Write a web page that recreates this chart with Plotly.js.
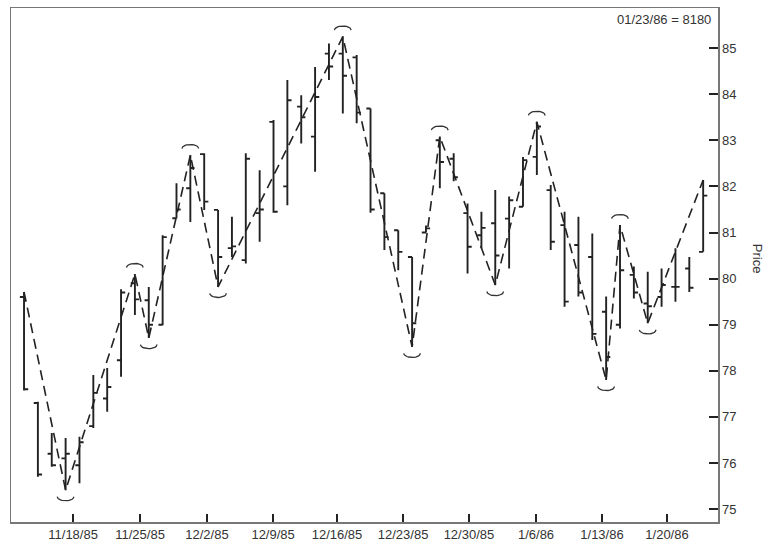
<!DOCTYPE html>
<html>
<head>
<meta charset="utf-8">
<script src="https://cdn.plot.ly/plotly-3.0.1.min.js"></script>
<style>
  html, body { margin: 0; padding: 0; background: #fff; }
  #chart { width: 768px; height: 543px; }
</style>
</head>
<body>
<div id="chart"></div>
<script>
// Trading sessions (holidays 11/28/85, 12/25/85, 1/1/86 absent)
const dates = [
  "11/12/85","11/13/85","11/14/85","11/15/85",
  "11/18/85","11/19/85","11/20/85","11/21/85","11/22/85",
  "11/25/85","11/26/85","11/27/85","11/29/85",
  "12/2/85","12/3/85","12/4/85","12/5/85","12/6/85",
  "12/9/85","12/10/85","12/11/85","12/12/85","12/13/85",
  "12/16/85","12/17/85","12/18/85","12/19/85","12/20/85",
  "12/23/85","12/24/85","12/26/85","12/27/85",
  "12/30/85","12/31/85","1/2/86","1/3/86",
  "1/6/86","1/7/86","1/8/86","1/9/86","1/10/86",
  "1/13/86","1/14/86","1/15/86","1/16/86","1/17/86",
  "1/20/86","1/21/86","1/22/86","1/23/86"
];
const openP  = [79.60,77.30,76.20,76.10,75.95,76.80,77.40,78.23,79.90,79.53,
                79.00,81.31,81.96,82.70,81.49,80.66,80.40,81.42,83.40,82.00,
                83.73,83.08,84.88,84.88,84.80,83.69,81.85,81.05,80.47,81.00,
                83.00,82.60,81.42,80.94,81.20,81.30,81.56,82.64,81.92,81.16,
                80.73,80.47,79.28,79.00,80.08,79.46,79.60,79.82,80.22,80.58];
const highP  = [79.71,77.33,76.65,76.54,76.57,77.91,78.06,79.77,80.10,79.82,
                80.94,82.07,82.68,82.72,81.49,81.34,82.72,82.35,83.44,84.31,
                83.98,84.59,85.10,85.25,84.85,83.69,81.85,81.05,80.47,81.15,
                83.08,82.72,81.63,81.45,81.92,81.78,82.64,83.40,82.03,81.45,
                81.34,80.98,79.61,81.16,80.26,80.15,80.22,80.66,80.47,82.14];
const lowP   = [77.57,75.70,75.92,75.41,75.56,76.76,77.11,77.87,79.21,78.71,
                78.99,81.31,81.23,81.49,79.82,80.47,80.33,80.80,81.43,81.59,
                82.93,82.32,84.31,83.58,83.37,81.43,80.62,80.18,78.52,81.00,
                81.96,82.11,80.11,80.66,79.86,80.22,81.56,82.25,80.62,79.39,
                79.61,78.67,77.80,78.92,79.57,79.03,79.39,79.50,79.71,80.58];
const closeP = [77.60,75.75,75.95,76.20,76.45,77.52,77.65,79.70,79.55,79.00,
                80.90,81.50,82.40,81.67,80.47,80.70,82.60,81.50,81.45,83.87,
                83.50,83.94,84.60,84.40,83.60,81.50,80.90,80.58,79.03,81.09,
                82.53,82.20,80.69,81.10,80.50,81.70,82.57,83.30,80.80,79.50,
                79.70,78.80,78.30,80.18,79.70,79.40,79.86,79.82,79.80,81.80];

// Swing points joined by the dashed zig-zag ("H" = bar high, "L" = bar low)
const pivotDates = ["11/12/85","11/15/85","11/22/85","11/25/85","11/29/85","12/3/85",
                    "12/16/85","12/23/85","12/26/85","1/2/86","1/7/86",
                    "1/14/86","1/15/86","1/17/86","1/23/86"];
const pivotType  = ["H","L","H","L","H","L","H","L","H","L","H","L","H","L","H"];

const tickLabels = ["11/18/85","11/25/85","12/2/85","12/9/85","12/16/85",
                    "12/23/85","12/30/85","1/6/86","1/13/86","1/20/86"];

// ---------------------------------------------------------------
const xIdx = dates.map((d, i) => i);
const pivX = pivotDates.map(d => dates.indexOf(d));
const pivY = pivX.map((i, k) => pivotType[k] === "H" ? highP[i] : lowP[i]);

// little arcs over swing highs / under swing lows (skip the end points)
const arcX = [], arcY = [];
const nSeg = 14, halfW = 0.6, gap = 0.14, rise = 0.09;
for (let k = 1; k < pivX.length - 1; k++) {
  const s = pivotType[k] === "H" ? 1 : -1;
  for (let j = 0; j <= nSeg; j++) {
    const t = Math.PI * j / nSeg;
    arcX.push(pivX[k] + halfW * Math.cos(t));
    arcY.push(pivY[k] + s * (gap + rise * Math.sin(t)));
  }
  arcX.push(null); arcY.push(null);
}

const ink = "#222";
const traces = [
  {
    type: "ohlc",
    x: xIdx, open: openP, high: highP, low: lowP, close: closeP,
    text: dates, hoverinfo: "text",
    increasing: { line: { color: ink, width: 1.9 } },
    decreasing: { line: { color: ink, width: 1.9 } },
    tickwidth: 0.3,
    showlegend: false
  },
  {
    type: "scatter", mode: "lines",
    x: pivX, y: pivY,
    line: { color: ink, width: 1.6, dash: "10px,6px" },
    hoverinfo: "skip", showlegend: false
  },
  {
    type: "scatter", mode: "lines",
    x: arcX, y: arcY, connectgaps: false,
    line: { color: "#333", width: 1.3 },
    hoverinfo: "skip", showlegend: false
  }
];

const font = { family: "Liberation Sans, Arial, sans-serif", size: 13, color: "#333" };

const layout = {
  width: 768, height: 543,
  margin: { l: 11, r: 50, t: 8, b: 21, pad: 0 },
  paper_bgcolor: "#fff", plot_bgcolor: "#fff",
  font: font,
  showlegend: false,
  xaxis: {
    type: "linear",
    range: [-0.94, 50.07],
    rangeslider: { visible: false },
    tickmode: "array",
    tickvals: [3.54, 8.37, 13.2, 17.97, 22.58, 27.35, 32.1, 36.94, 41.7, 46.39],
    ticktext: tickLabels,
    ticks: "inside", ticklen: 8, tickwidth: 2, tickcolor: ink,
    showgrid: false, zeroline: false,
    showline: true, linecolor: "#777", linewidth: 1.5, mirror: true,
    tickfont: font
  },
  yaxis: {
    side: "right",
    range: [74.72, 85.87],
    tickmode: "linear", tick0: 75, dtick: 1,
    ticks: "inside", ticklen: 9, tickwidth: 2, tickcolor: ink,
    showgrid: false, zeroline: false,
    showline: true, linecolor: "#777", linewidth: 1.5, mirror: true,
    tickfont: font
  },
  annotations: [
    {
      text: "01/23/86 = 8180",
      xref: "paper", yref: "paper", x: 1, y: 1,
      xanchor: "right", yanchor: "top", xshift: -5, yshift: -2,
      showarrow: false, font: font
    },
    {
      text: "Price",
      xref: "paper", yref: "paper", x: 1, y: 0.512,
      xanchor: "center", yanchor: "middle", xshift: 39,
      textangle: 90, showarrow: false, font: font
    }
  ]
};

Plotly.newPlot("chart", traces, layout, { displayModeBar: false, staticPlot: true });
</script>
</body>
</html>
